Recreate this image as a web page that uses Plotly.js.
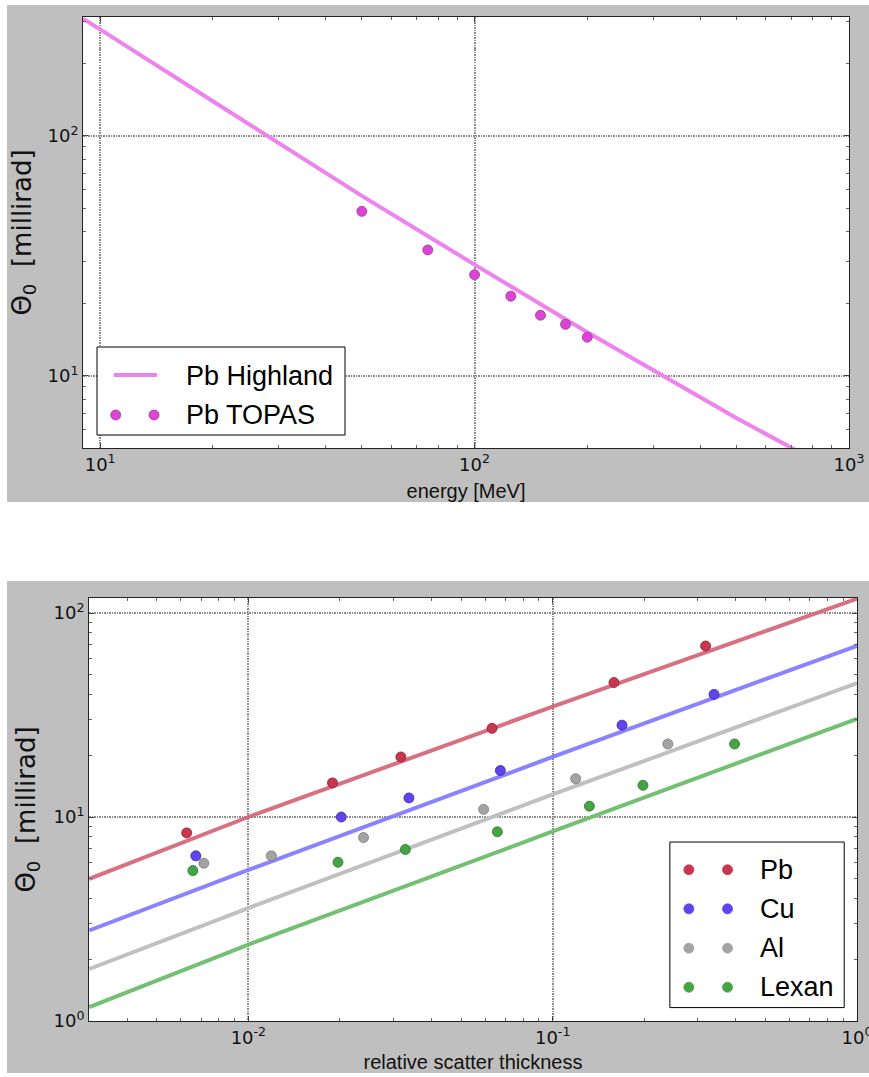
<!DOCTYPE html>
<html>
<head>
<meta charset="utf-8">
<script src="https://cdn.plot.ly/plotly-3.0.1.min.js"></script>
<style>
  html, body { margin: 0; padding: 0; background: #ffffff; }
  body { width: 869px; height: 1077px; position: relative; overflow: hidden; }
  #top { position: absolute; left: 7px; top: 5px; width: 862px; height: 497px; }
  #bot { position: absolute; left: 7px; top: 581px; width: 862px; height: 492px; }
</style>
</head>
<body>
<div id="top"></div>
<div id="bot"></div>
<script>
// ---------- data: top chart (energy scan, Pb) ----------
const highlandEnergy = [9, 10, 20, 50, 100, 200, 500, 700, 1000];
const highlandTheta  = [308, 278, 139.5, 56.3, 29.1, 15.2, 6.68, 5.01, 3.72];
const topasEnergy = [50, 75, 100, 125, 150, 175, 200];
const topasTheta  = [48.5, 33.5, 26.4, 21.5, 17.9, 16.4, 14.5];
const topNames = ["Pb Highland", "Pb TOPAS"];

// ---------- data: bottom chart (thickness scan) ----------
const lineThick = [0.003, 0.01, 0.1, 1];
const pbLine  = [4.98, 10.0, 34.8, 117.5];
const cuLine  = [2.78, 5.5, 19.7, 69.1];
const alLine  = [1.80, 3.58, 12.9, 45.3];
const lexLine = [1.17, 2.37, 8.5, 30.3];

const pbX  = [0.00627, 0.0189, 0.0317, 0.0632, 0.159, 0.318];
const pbY  = [8.36, 14.7, 19.7, 27.2, 45.6, 68.9];
const cuX  = [0.00672, 0.0202, 0.0337, 0.0673, 0.169, 0.339];
const cuY  = [6.45, 10.0, 12.4, 16.9, 28.2, 39.9];
const alX  = [0.00714, 0.0119, 0.0239, 0.0593, 0.119, 0.239];
const alY  = [5.93, 6.45, 7.93, 10.9, 15.4, 22.8];
const lexX = [0.00657, 0.0197, 0.0328, 0.0658, 0.132, 0.198, 0.396];
const lexY = [5.46, 6.0, 6.93, 8.46, 11.3, 14.3, 22.8];
const botNames = ["Pb", "Cu", "Al", "Lexan"];

// ---------- tick labels ----------
const topXTickVals = [10, 100, 1000];
const topXTickText = ["10<sup>1</sup>", "10<sup>2</sup>", "10<sup>3</sup>"];
const topYTickVals = [10, 100];
const topYTickText = ["10<sup>1</sup>", "10<sup>2</sup>"];
const botXTickVals = [0.01, 0.1, 1];
const botXTickText = ["10<sup>-2</sup>", "10<sup>-1</sup>", "10<sup>0</sup>"];
const botYTickVals = [1, 10, 100];
const botYTickText = ["10<sup>0</sup>", "10<sup>1</sup>", "10<sup>2</sup>"];

const xTitleTop = "energy [MeV]";
const xTitleBot = "relative scatter thickness";
const yTitle = "\u0398<sub>0</sub>\u00a0\u00a0[millirad]";

// ---------- styling ----------
const GRAYBG = "#bfbfbf";
const tickFont = { family: "DejaVu Sans, sans-serif", size: 18, color: "#111" };
const legFont = { family: "Liberation Sans, Arial, sans-serif", size: 27, color: "#000" };
const xTitleFont = { family: "Liberation Sans, Arial, sans-serif", size: 20, color: "#111" };
const yTitleFont = { family: "DejaVu Sans, sans-serif", size: 26, color: "#111" };

function axisBase(extra) {
  return Object.assign({
    type: "log",
    autorange: false,
    showline: true, mirror: "allticks", linecolor: "#222", linewidth: 1,
    ticks: "inside", ticklen: 5, tickcolor: "#444", tickwidth: 1,
    showgrid: true, gridcolor: "rgb(140,140,140)", gridwidth: 2, griddash: "1.5px,1px",
    zeroline: false,
    tickmode: "array",
    tickfont: tickFont,
    ticklabeloverflow: "allow",
    minor: { ticks: "inside", ticklen: 3, tickcolor: "#666", dtick: "D1", showgrid: false },
    fixedrange: true
  }, extra);
}

// helper to build custom matplotlib-like legends (positions in page pixels)
function makeLegend(box, items, plot) {
  const fx = p => (p - plot.x0) / (plot.x1 - plot.x0);
  const fy = p => (plot.y1 - p) / (plot.y1 - plot.y0);
  const shapes = [{
    type: "rect", xref: "paper", yref: "paper", layer: "above",
    x0: fx(box.x0), x1: fx(box.x1), y0: fy(box.y1), y1: fy(box.y0),
    line: { color: "#000", width: 1 }, fillcolor: "#ffffff"
  }];
  const annotations = [];
  items.forEach(it => {
    if (it.kind === "line") {
      shapes.push({
        type: "line", xref: "paper", yref: "paper", layer: "above",
        x0: fx(it.lx0), x1: fx(it.lx1), y0: fy(it.y), y1: fy(it.y),
        line: { color: it.color, width: 4 }
      });
    } else {
      it.dots.forEach(dx => {
        shapes.push({
          type: "circle", xref: "paper", yref: "paper", layer: "above",
          xsizemode: "pixel", ysizemode: "pixel",
          xanchor: fx(dx), yanchor: fy(it.y),
          x0: -5, x1: 5, y0: -5, y1: 5,
          fillcolor: it.color, line: { color: it.edge, width: 0.8 }
        });
      });
    }
    annotations.push({
      xref: "paper", yref: "paper", x: fx(it.tx), y: fy(it.y + (it.dy || 0)),
      xanchor: "left", yanchor: "middle", showarrow: false,
      text: it.text, font: legFont
    });
  });
  return { shapes, annotations };
}

// ================= TOP CHART =================
const topPlot = { x0: 83, x1: 849, y0: 17, y1: 448 };   // page pixels
const violet = "#ee82ee";
const topDot = "#dd44d4";
const topDotEdge = "#9a3a9a";

const topTraces = [
  { type: "scatter", mode: "lines", name: topNames[0], x: highlandEnergy, y: highlandTheta,
    line: { color: violet, width: 4 }, hoverinfo: "skip" },
  { type: "scatter", mode: "markers", name: topNames[1], x: topasEnergy, y: topasTheta,
    marker: { color: topDot, size: 10, line: { color: topDotEdge, width: 0.8 } }, hoverinfo: "skip" }
];

const topLeg = makeLegend(
  { x0: 97, x1: 345, y0: 347, y1: 435 },
  [
    { kind: "line", lx0: 114, lx1: 157, y: 375, tx: 184, text: topNames[0], color: violet, dy: 1 },
    { kind: "dots", dots: [115.7, 154], y: 415, tx: 184, text: topNames[1], color: topDot, edge: topDotEdge, dy: 0 }
  ],
  topPlot
);

const topLayout = {
  width: 862, height: 497,
  margin: { l: topPlot.x0 - 7, r: 862 - (topPlot.x1 - 7), t: topPlot.y0 - 5, b: 497 - (topPlot.y1 - 5), pad: 0 },
  paper_bgcolor: GRAYBG, plot_bgcolor: "#ffffff",
  showlegend: false,
  xaxis: axisBase({
    range: [Math.log10(9), 3],
    tickvals: topXTickVals, ticktext: topXTickText,
    title: { text: xTitleTop, font: xTitleFont, standoff: 10 }
  }),
  yaxis: axisBase({
    range: [0.6995, 2.4958],
    tickvals: topYTickVals, ticktext: topYTickText,
    title: { text: yTitle, font: yTitleFont, standoff: 10 }
  }),
  shapes: topLeg.shapes,
  annotations: topLeg.annotations
};

// ================= BOTTOM CHART =================
const botPlot = { x0: 89.3, x1: 857.5, y0: 598.3, y1: 1020.7 };
const colors = {
  pb:  { line: "rgba(214,104,122,0.95)", dot: "#c8374f", edge: "#8a2035" },
  cu:  { line: "rgba(130,125,255,0.95)", dot: "#6244ee", edge: "#3a2aa0" },
  al:  { line: "rgba(192,192,192,1)",   dot: "#a3a3a3", edge: "#7a7a7a" },
  lex: { line: "rgba(115,192,115,1)",   dot: "#45a545", edge: "#2c762c" }
};

function lineTrace(name, y, c) {
  return { type: "scatter", mode: "lines", name: name + " Highland", x: lineThick, y: y,
    line: { color: c.line, width: 4 }, hoverinfo: "skip" };
}
function dotTrace(name, x, y, c) {
  return { type: "scatter", mode: "markers", name: name, x: x, y: y,
    marker: { color: c.dot, size: 10, line: { color: c.edge, width: 0.8 } }, hoverinfo: "skip" };
}

const botTraces = [
  lineTrace(botNames[0], pbLine, colors.pb),
  lineTrace(botNames[1], cuLine, colors.cu),
  lineTrace(botNames[2], alLine, colors.al),
  lineTrace(botNames[3], lexLine, colors.lex),
  dotTrace(botNames[0], pbX, pbY, colors.pb),
  dotTrace(botNames[1], cuX, cuY, colors.cu),
  dotTrace(botNames[2], alX, alY, colors.al),
  dotTrace(botNames[3], lexX, lexY, colors.lex)
];

const legRows = [869.7, 908.7, 948, 987];
const legCols = [colors.pb, colors.cu, colors.al, colors.lex];
const botLeg = makeLegend(
  { x0: 670.3, x1: 844.7, y0: 842, y1: 1007.3 },
  botNames.map((n, i) => ({ kind: "dots", dots: [689.3, 728], y: legRows[i], tx: 758, text: n,
    color: legCols[i].dot, edge: legCols[i].dot, dy: 0 })),
  botPlot
);

const botLayout = {
  width: 862, height: 492,
  margin: { l: botPlot.x0 - 7, r: 862 - (botPlot.x1 - 7), t: botPlot.y0 - 581, b: 492 - (botPlot.y1 - 581), pad: 0 },
  paper_bgcolor: GRAYBG, plot_bgcolor: "#ffffff",
  showlegend: false,
  xaxis: axisBase({
    range: [-2.5237, 0],
    tickvals: botXTickVals, ticktext: botXTickText,
    title: { text: xTitleBot, font: xTitleFont, standoff: 10 }
  }),
  yaxis: axisBase({
    range: [0, 2.0736],
    tickvals: botYTickVals, ticktext: botYTickText,
    title: { text: yTitle, font: yTitleFont, standoff: 10 }
  }),
  shapes: botLeg.shapes,
  annotations: botLeg.annotations
};

const cfg = { displayModeBar: false, staticPlot: true };
Plotly.newPlot("top", topTraces, topLayout, cfg);
Plotly.newPlot("bot", botTraces, botLayout, cfg);
</script>
</body>
</html>
